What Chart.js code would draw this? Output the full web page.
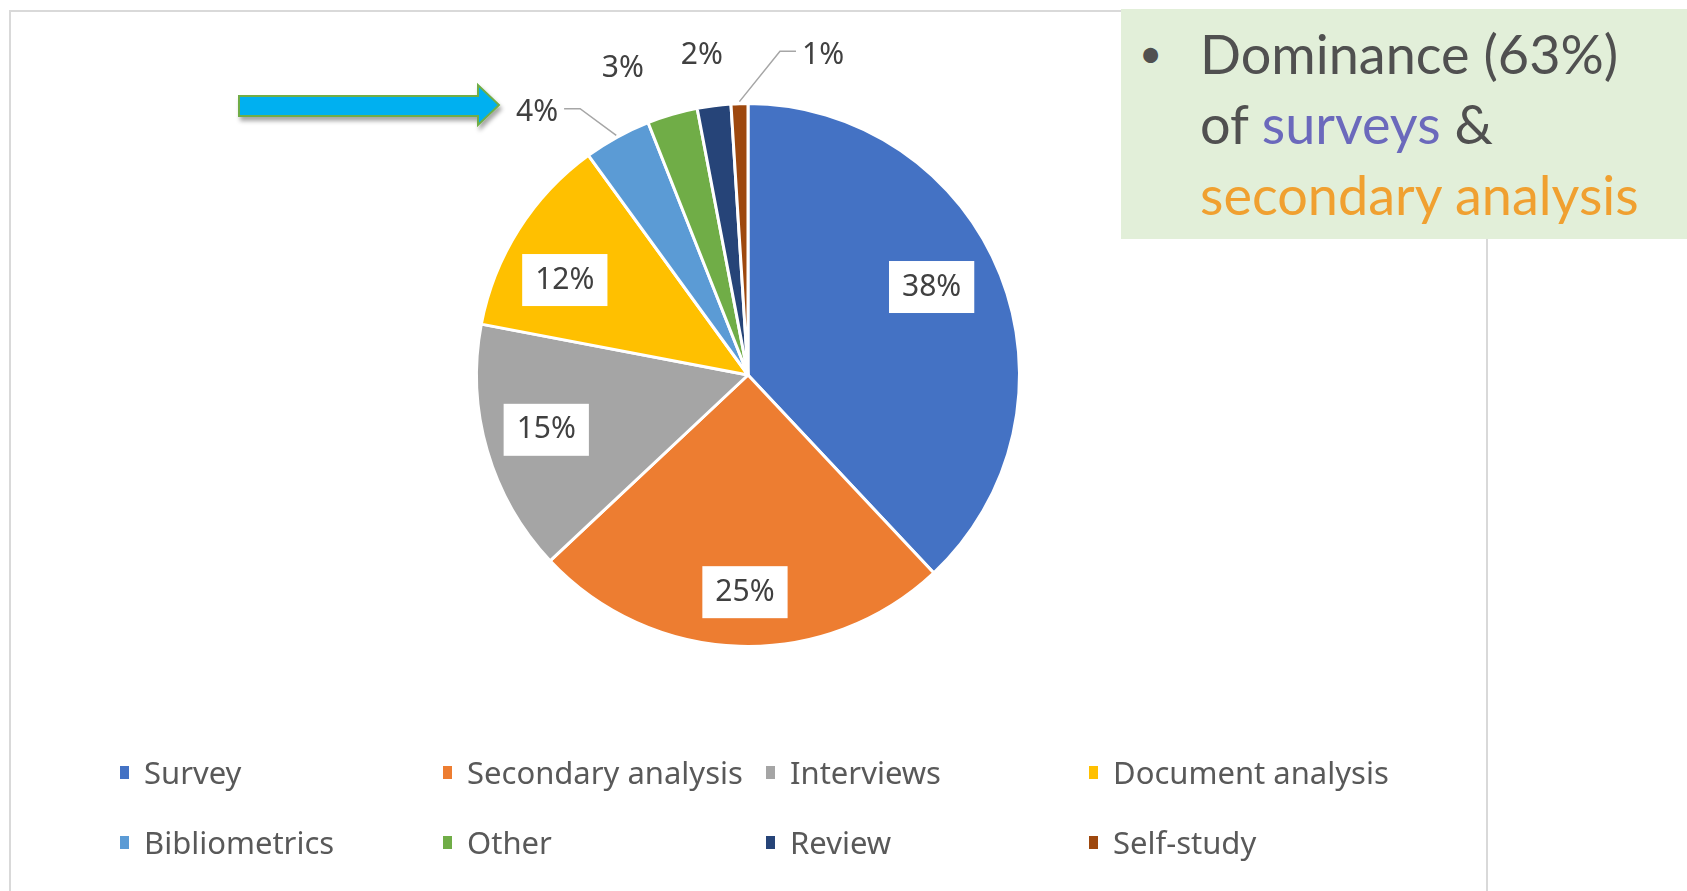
<!DOCTYPE html>
<html lang="en">
<head>
  <meta charset="UTF-8">
  <title>Research methods share</title>
  <script src="https://cdn.jsdelivr.net/npm/chart.js"></script>
  <style>
    body {
      margin: 0;
      width: 1687px;
      height: 891px;
      overflow: hidden;
      background: #fff;
      position: relative;
      font-family: "Noto Sans", sans-serif;
    }
    #pie {
      position: absolute;
      left: 0;
      top: 0;
    }
    .frame {
      position: absolute;
      left: 9px;
      top: 10px;
      width: 1475px;
      height: 900px;
      border: 2px solid #d9d9d9;
      pointer-events: none;
    }
    .note {
      position: absolute;
      left: 1121px;
      top: 9px;
      width: 566px;
      height: 230px;
      background: #e2efd9;
      font-family: Lato, sans-serif;
      font-size: 54px;
      color: #505050;
    }
    .note .line {
      position: absolute;
      left: 79px;
      white-space: nowrap;
    }
    .note .bullet {
      position: absolute;
      left: 18px;
      font-size: 40px;
    }
    .blue { color: #6b69bc; }
    .orange { color: #f0a030; }
    .legend {
      position: absolute;
      left: 120px;
      top: 748px;
      display: grid;
      grid-template-columns: 323px 323px 323px 323px;
      row-gap: 22px;
      font-size: 31px;
      color: #595959;
    }
    .legend .item {
      display: flex;
      align-items: center;
      height: 48px;
      white-space: nowrap;
    }
    .legend .sw {
      width: 9px;
      height: 13px;
      margin-right: 15px;
    }
    #arrow {
      position: absolute;
      left: 230px;
      top: 78px;
    }
  </style>
</head>
<body>
  <canvas id="pie" width="1687" height="891"></canvas>
  <div class="frame"></div>

  <svg id="arrow" width="290" height="60">
    <defs>
      <filter id="sh" x="-10%" y="-30%" width="120%" height="180%">
        <feDropShadow dx="2" dy="4" stdDeviation="2" flood-color="#000" flood-opacity="0.35"/>
      </filter>
    </defs>
    <polygon points="9,18 248,18 248,7 269,27 248,47 248,38 9,38"
             fill="#00b0f0" stroke="#70ad47" stroke-width="2" filter="url(#sh)"/>
  </svg>

  <div class="legend" id="legend"></div>

  <div class="note">
    <span class="bullet" style="top:20px">&#8226;</span>
    <span class="line" style="top:12px">Dominance (63%)</span>
    <span class="line" style="top:82px">of <span class="blue">surveys</span> &amp;</span>
    <span class="line" style="top:153px"><span class="orange">secondary analysis</span></span>
  </div>

  <script>
    // data
    const categories = ['Survey', 'Secondary analysis', 'Interviews', 'Document analysis',
                        'Bibliometrics', 'Other', 'Review', 'Self-study'];
    const shares = [38, 25, 15, 12, 4, 3, 2, 1];
    const colors = ['#4472c4', '#ed7d31', '#a5a5a5', '#ffc000',
                    '#5b9bd5', '#70ad47', '#264478', '#9e480e'];

    // label placement: radius as fraction of pie radius, angle nudge in degrees
    const labelRadius = [0.75, 0.8, 0.77, 0.76, 1.24, 1.22, 1.19, 1.21];
    const labelNudge = [-4, -1, 1, -5, -10, -6, -1, 15];

    const legendBox = document.getElementById('legend');
    categories.forEach((name, i) => {
      const item = document.createElement('div');
      item.className = 'item';
      item.innerHTML = '<span class="sw" style="background:' + colors[i] + '"></span>' + name;
      legendBox.appendChild(item);
    });

    const sliceLabels = {
      id: 'sliceLabels',
      afterDatasetsDraw(chart) {
        const ctx = chart.ctx;
        const arcs = chart.getDatasetMeta(0).data;
        ctx.save();
        ctx.font = '30px "Noto Sans"';
        ctx.textAlign = 'center';
        ctx.textBaseline = 'middle';
        arcs.forEach((arc, i) => {
          const p = arc.getProps(['x', 'y', 'startAngle', 'endAngle', 'outerRadius'], true);
          const mid = (p.startAngle + p.endAngle) / 2;
          const ang = mid + labelNudge[i] * Math.PI / 180;
          const r = p.outerRadius * labelRadius[i];
          const lx = p.x + Math.cos(ang) * r;
          const ly = p.y + Math.sin(ang) * r;
          const text = shares[i] + '%';
          const w = ctx.measureText(text).width;
          if (labelRadius[i] < 1) {
            ctx.fillStyle = '#ffffff';
            ctx.fillRect(lx - w / 2 - 13, ly - 26, w + 26, 52);
          } else if (Math.abs(labelNudge[i]) > 8) {
            // leader line from label to slice edge
            const ex = p.x + Math.cos(mid) * (p.outerRadius + 2);
            const ey = p.y + Math.sin(mid) * (p.outerRadius + 2);
            const side = ex > lx ? 1 : -1;
            const sx = lx + side * (w / 2 + 6);
            ctx.strokeStyle = '#a6a6a6';
            ctx.lineWidth = 1.5;
            ctx.beginPath();
            ctx.moveTo(sx, ly - 4);
            ctx.lineTo(sx + side * 16, ly - 4);
            ctx.lineTo(ex, ey);
            ctx.stroke();
          }
          ctx.fillStyle = '#404040';
          ctx.fillText(text, lx, ly);
        });
        ctx.restore();
      }
    };

    new Chart(document.getElementById('pie'), {
      type: 'pie',
      data: {
        labels: categories,
        datasets: [{
          data: shares,
          backgroundColor: colors,
          borderColor: '#ffffff',
          borderWidth: 3
        }]
      },
      options: {
        responsive: false,
        animation: false,
        layout: { padding: { top: 102, bottom: 243, left: 475, right: 666 } },
        plugins: {
          legend: { display: false },
          tooltip: { enabled: false }
        }
      },
      plugins: [sliceLabels]
    });
  </script>
</body>
</html>
